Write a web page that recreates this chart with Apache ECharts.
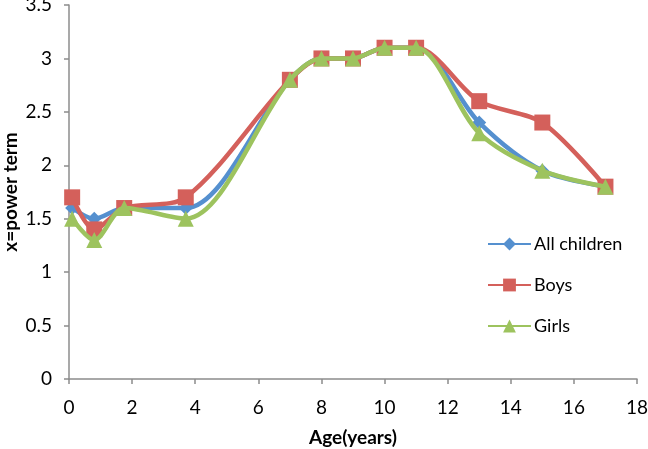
<!DOCTYPE html>
<html>
<head>
<meta charset="utf-8">
<script src="https://cdn.jsdelivr.net/npm/echarts@6/dist/echarts.min.js"></script>
<style>html,body{margin:0;padding:0;background:#fff;}#c{width:648px;height:449px;}</style>
</head>
<body>
<div id="c"></div>
<script>
var ages = [0.1, 0.8, 1.75, 3.7, 7, 8, 9, 10, 11, 13, 15, 17];
var allChildren = [1.6, 1.5, 1.6, 1.6, 2.8, 3.0, 3.0, 3.1, 3.1, 2.4, 1.95, 1.8];
var boys = [1.7, 1.4, 1.6, 1.7, 2.8, 3.0, 3.0, 3.1, 3.1, 2.6, 2.4, 1.8];
var girls = [1.5, 1.3, 1.6, 1.5, 2.8, 3.0, 3.0, 3.1, 3.1, 2.3, 1.95, 1.8];
var seriesNames = ['All children', 'Boys', 'Girls'];
var xAxisName = 'Age(years)';
var yAxisName = 'x=power term';

function pairs(xs, ys) { return xs.map(function (x, i) { return [x, ys[i]]; }); }

var FONT = 'Lato';
var chart = echarts.init(document.getElementById('c'), null, {renderer: 'canvas'});
var axisLine = {show: true, lineStyle: {color: '#8c8c8c', width: 1.5}};
var colors = ['#5590CF', '#D4605B', '#9DC35E'];
var symbols = ['diamond', 'rect', 'triangle'];
var sizes = [14, 16, 16];
var data = [allChildren, boys, girls];

chart.setOption({
  animation: false,
  backgroundColor: '#fff',
  grid: {left: 69, right: 11, top: 5, bottom: 70, containLabel: false, outerBoundsMode: 'none'},
  legend: {
    orient: 'vertical', left: 482, top: 230,
    itemWidth: 43, itemHeight: 16, itemGap: 23,
    textStyle: {fontFamily: FONT, fontSize: 18, color: '#000', padding: [0, 0, 0, -2]},
    data: seriesNames
  },
  xAxis: {
    type: 'value', min: 0, max: 18, interval: 2,
    name: xAxisName, nameLocation: 'middle', nameGap: 49, nameMoveOverlap: false,
    nameTextStyle: {fontFamily: FONT, fontSize: 19, fontWeight: 'bold', color: '#000'},
    axisLine: axisLine,
    axisTick: {show: true, length: 5, lineStyle: {color: '#8c8c8c', width: 1.5}},
    axisLabel: {fontFamily: FONT, fontSize: 19, color: '#000', margin: 19},
    splitLine: {show: false}
  },
  yAxis: {
    type: 'value', min: 0, max: 3.5, interval: 0.5,
    name: yAxisName, nameLocation: 'middle', nameGap: 49, nameRotate: 90, nameMoveOverlap: false,
    nameTextStyle: {fontFamily: FONT, fontSize: 19, fontWeight: 'bold', color: '#000'},
    axisLine: axisLine,
    axisTick: {show: true, length: 5, lineStyle: {color: '#8c8c8c', width: 1.5}},
    axisLabel: {fontFamily: FONT, fontSize: 19, color: '#000', margin: 17},
    splitLine: {show: false}
  },
  series: seriesNames.map(function (n, i) {
    return {
      name: n, type: 'line', smooth: 0.3,
      data: pairs(ages, data[i]),
      symbol: symbols[i], symbolSize: sizes[i],
      lineStyle: {color: colors[i], width: 4.5},
      itemStyle: {color: colors[i]},
      z: 2 + i
    };
  })
});
</script>
</body>
</html>
